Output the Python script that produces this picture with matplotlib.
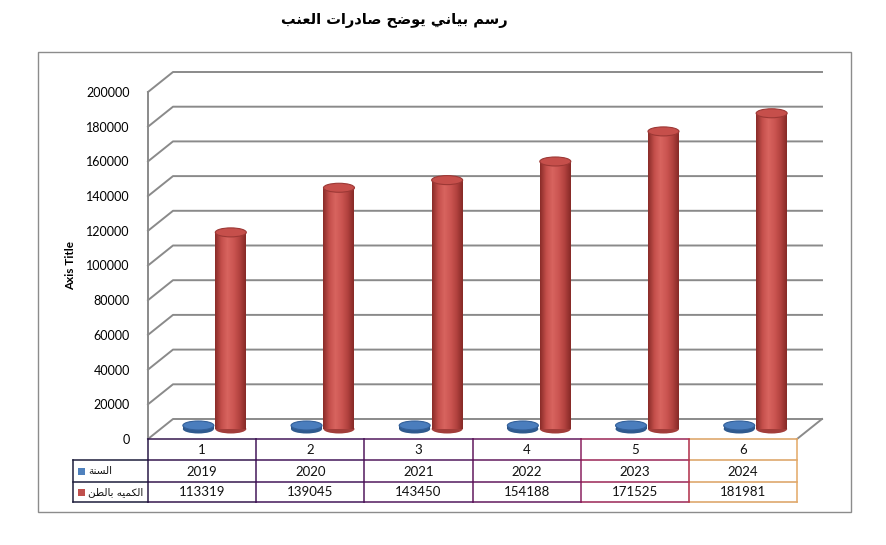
import numpy as np
import matplotlib
matplotlib.use('Agg')
import matplotlib.pyplot as plt
from matplotlib.patches import Ellipse, Rectangle
from matplotlib import transforms
from matplotlib.colors import LinearSegmentedColormap

plt.rcParams['font.family'] = ['Lato', 'DejaVu Sans']

title = 'رسم بياني يوضح صادرات العنب'
y_label = 'Axis Title'
categories = ['1', '2', '3', '4', '5', '6']
series_names = ['السنة', 'الكميه بالطن']
year = [2019, 2020, 2021, 2022, 2023, 2024]
qty = [113319, 139045, 143450, 154188, 171525, 181981]
y_ticks = list(range(0, 200001, 20000))

# arabic contextual forms (isolated, final, initial, medial) - mpl does no shaping
AR = {
    'ا': ('\uFE8D', '\uFE8E', None, None),
    'ب': ('\uFE8F', '\uFE90', '\uFE91', '\uFE92'),
    'ة': ('\uFE93', '\uFE94', None, None),
    'ت': ('\uFE95', '\uFE96', '\uFE97', '\uFE98'),
    'ح': ('\uFEA1', '\uFEA2', '\uFEA3', '\uFEA4'),
    'د': ('\uFEA9', '\uFEAA', None, None),
    'ر': ('\uFEAD', '\uFEAE', None, None),
    'س': ('\uFEB1', '\uFEB2', '\uFEB3', '\uFEB4'),
    'ص': ('\uFEB9', '\uFEBA', '\uFEBB', '\uFEBC'),
    'ض': ('\uFEBD', '\uFEBE', '\uFEBF', '\uFEC0'),
    'ط': ('\uFEC1', '\uFEC2', '\uFEC3', '\uFEC4'),
    'ع': ('\uFEC9', '\uFECA', '\uFECB', '\uFECC'),
    'ك': ('\uFED9', '\uFEDA', '\uFEDB', '\uFEDC'),
    'ل': ('\uFEDD', '\uFEDE', '\uFEDF', '\uFEE0'),
    'م': ('\uFEE1', '\uFEE2', '\uFEE3', '\uFEE4'),
    'ن': ('\uFEE5', '\uFEE6', '\uFEE7', '\uFEE8'),
    'ه': ('\uFEE9', '\uFEEA', '\uFEEB', '\uFEEC'),
    'و': ('\uFEED', '\uFEEE', None, None),
    'ي': ('\uFEF1', '\uFEF2', '\uFEF3', '\uFEF4'),
}


def shape(s):
    out = []
    for i, ch in enumerate(s):
        f = AR.get(ch)
        if f is None:
            out.append(ch)
            continue
        prev = AR.get(s[i - 1]) if i > 0 else None
        nxt = AR.get(s[i + 1]) if i + 1 < len(s) else None
        jp = prev is not None and prev[2] is not None
        jn = f[2] is not None and nxt is not None
        if jp and jn:
            out.append(f[3])
        elif jp:
            out.append(f[1])
        elif jn:
            out.append(f[2])
        else:
            out.append(f[0])
    return ''.join(reversed(out))


W, H = 886, 545
fig = plt.figure(figsize=(W / 100, H / 100), dpi=100)
x0, x1, ytop, ybot = 148, 797, 92, 439
ax = fig.add_axes([x0 / W, 1 - ybot / H, (x1 - x0) / W, (ybot - ytop) / H])
n = len(categories)
ymax = 200000

px_x = (x1 - x0) / n
px_y = (ybot - ytop) / ymax
DX = 25 / px_x
DY = 20 / px_y

grid = '#8a8a8a'
for t in y_ticks:
    ax.plot([0, DX, n + DX], [t, t + DY, t + DY], color=grid, lw=1.4,
            clip_on=False, zorder=1)
ax.plot([n, n + DX], [0, DY], color=grid, lw=1.4, clip_on=False, zorder=1)
ax.plot([0, 0], [0, ymax], color=grid, lw=1.4, clip_on=False, zorder=1)

red_cm = LinearSegmentedColormap.from_list(
    'r', ['#8a2c29', '#c44f4b', '#d8645f', '#cc5652', '#b3423f', '#862a27'])
blue_cm = LinearSegmentedColormap.from_list(
    'b', ['#2b5282', '#4f81bd', '#5e92d2', '#4b7cb8', '#2b5282'])

bw = 31 / px_x
off = 0.15
eh = 9 / px_y
base = DY / 2
grad = np.linspace(0, 1, 64).reshape(1, -1)


def cylinder(xc, h, cmap, top_c, edge_c, bot_c):
    left = xc - bw / 2
    ax.add_patch(Ellipse((xc, base), bw, eh, fc=bot_c, ec='none', zorder=3,
                         clip_on=False))
    ax.imshow(grad, cmap=cmap, extent=(left, left + bw, base, base + h),
              aspect='auto', zorder=4, interpolation='bilinear')
    ax.add_patch(Ellipse((xc, base + h), bw, eh, fc=top_c, ec=edge_c, lw=0.8,
                         zorder=5))


for i in range(n):
    xc = i + 0.5 + DX / 2
    cylinder(xc - off, year[i], blue_cm, '#4a7dbd', '#33609a', '#2f5a8e')
    cylinder(xc + off, qty[i], red_cm, '#c64f4b', '#9c3835', '#a23d3a')

ax.set_xlim(0, n)
ax.set_ylim(0, ymax)
ax.set_xticks([])
ax.set_yticks(y_ticks, labels=[str(t) for t in y_ticks])
ax.tick_params(axis='y', length=0, pad=13, labelsize=9)
for s in ax.spines.values():
    s.set_visible(False)
ax.set_ylabel(y_label, fontsize=8.5, fontweight='bold')
ax.yaxis.set_label_coords((76 - x0) / (x1 - x0), 0.5)
ax.patch.set_alpha(0)

# data table under the plot
pxT = transforms.Affine2D().scale(1, -1).translate(0, H)
tb = transforms.blended_transform_factory(ax.transData, pxT)
row_y = [439, 460, 482, 502]
leg_x = (73 - x0) / px_x
bounds = [leg_x] + list(range(n + 1))
seg_cols = ['#1e1e3c', '#36184e', '#44185a', '#521a5e', '#621a5e', '#9a2656', '#dba060']
vert_cols = ['#1e1e3c', '#2a1a48', '#44185a', '#521a5e', '#621a5e', '#8a2260', '#b02c48', '#e3a866']

for k in range(len(bounds) - 1):
    xa, xb = bounds[k], bounds[k + 1]
    rows = row_y[1:] if k == 0 else row_y
    for ry in rows:
        ax.plot([xa, xb], [ry, ry], color=seg_cols[k], lw=1.1, transform=tb,
                clip_on=False, zorder=6)
for k, xb in enumerate(bounds):
    ya = row_y[1] if k == 0 else row_y[0]
    ax.plot([xb, xb], [ya, row_y[3]], color=vert_cols[k], lw=1.1, transform=tb,
            clip_on=False, zorder=6)

for i in range(n):
    for r, val in enumerate([categories[i], str(year[i]), str(qty[i])]):
        ax.text(i + 0.5, (row_y[r] + row_y[r + 1]) / 2 + 0.5, val, transform=tb,
                ha='center', va='center', fontsize=9.5, color='#111111')

for r, (name, col) in enumerate(zip(series_names, ['#4f81bd', '#c0504d'])):
    yc = (row_y[r + 1] + row_y[r + 2]) / 2
    fig.add_artist(Rectangle((78, yc - 3.5), 7, 7, fc=col, ec='none', transform=pxT))
    fig.text(88, yc, shape(name), transform=pxT, ha='left', va='center',
             fontsize=7.5, family='DejaVu Sans', color='#111111')

fig.text(394, 20, shape(title), transform=pxT, ha='center', va='center',
         fontsize=10.5, fontweight='bold', family='DejaVu Sans')

fig.add_artist(Rectangle((38, 52), 813, 460, fc='none', ec='#8c8c8c', lw=1,
                         transform=pxT))

fig.savefig('out.png', dpi=100)
